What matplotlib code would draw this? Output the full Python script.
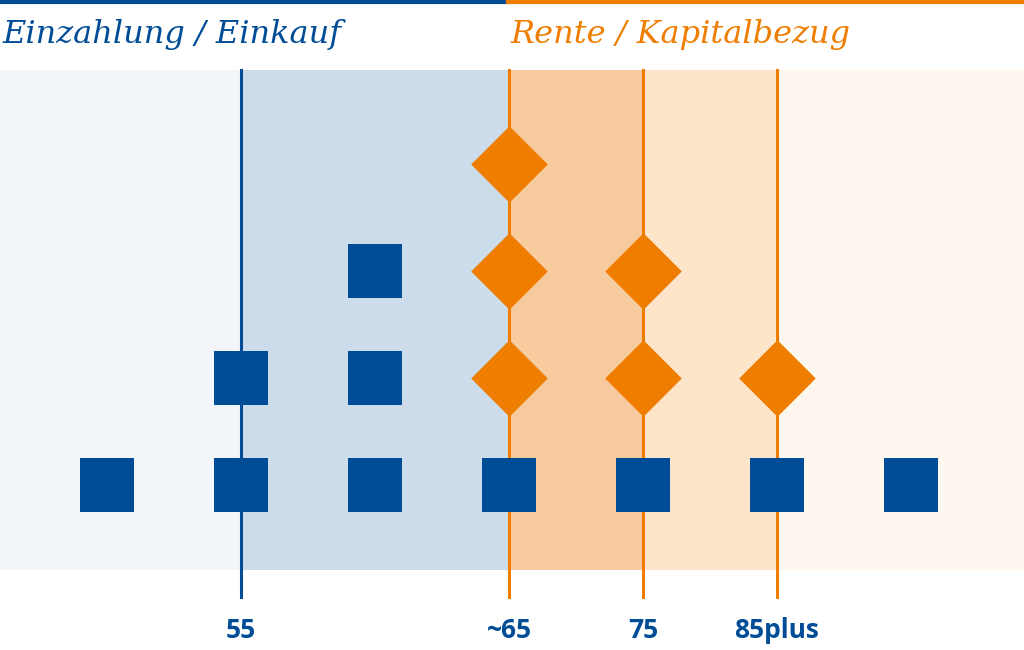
import matplotlib
matplotlib.use("Agg")
import matplotlib.pyplot as plt

BLUE = "#004c97"
ORANGE = "#ef7d00"

# data
columns = [0, 1, 2, 3, 4, 5, 6]
square_cols = [0, 1, 2, 3, 4, 5, 6, 1, 2, 2]
square_rows = [0, 0, 0, 0, 0, 0, 0, 1, 1, 2]
diamond_cols = [3, 4, 5, 3, 4, 3]
diamond_rows = [1, 1, 1, 2, 2, 3]
tick_pos = [1, 3, 4, 5]
tick_labels = ["55", "~65", "75", "85plus"]
band_edges = [-0.8, 1, 3, 4, 5, 6.85]
band_colors = ["#f2f6fa", "#ccdcea", "#f8cb9e", "#fde5cc", "#fef7ef"]
line_pos = [1, 3, 4, 5]
line_colors = [BLUE, ORANGE, ORANGE, ORANGE]

fig = plt.figure(figsize=(10.24, 6.5), dpi=100)
ax = fig.add_axes([0, 0, 1, 1])
ax.set_xlim(-107/134, (1024-107)/134)
ax.set_ylim((485-650)/107, 485/107)
ax.axis("off")

ybot, ytop = (485-570)/107, (485-70)/107
for i, c in enumerate(band_colors):
    ax.fill_between([band_edges[i], band_edges[i+1]], ybot, ytop, color=c, lw=0, zorder=0)

ylow = (485-597)/107
for p, c in zip(line_pos, line_colors):
    ax.plot([p, p], [ylow, ytop], color=c, lw=2.2, zorder=1)

ax.scatter(square_cols, square_rows, marker="s", s=39**2, color=BLUE, lw=0, zorder=3)
ax.scatter(diamond_cols, diamond_rows, marker="D", s=39**2, color=ORANGE, lw=0, zorder=3)

for p, t in zip(tick_pos, tick_labels):
    ax.text(p, (485-630)/107, t, ha="center", va="center", fontsize=19,
            fontweight="bold", color=BLUE, family="Open Sans")

# top rules
fig.add_artist(plt.Line2D([0, 508/1024], [0.997, 0.997], color=BLUE, lw=3))
fig.add_artist(plt.Line2D([508/1024, 1], [0.997, 0.997], color=ORANGE, lw=3))

fig.text(2/1024, 1-35/650, "Einzahlung / Einkauf", fontsize=23, style="italic",
         color=BLUE, family="DejaVu Serif", va="center", ha="left")
fig.text(510/1024, 1-35/650, "Rente / Kapitalbezug", fontsize=23, style="italic",
         color=ORANGE, family="DejaVu Serif", va="center", ha="left")

fig.savefig("out.png", dpi=100, facecolor="white")
